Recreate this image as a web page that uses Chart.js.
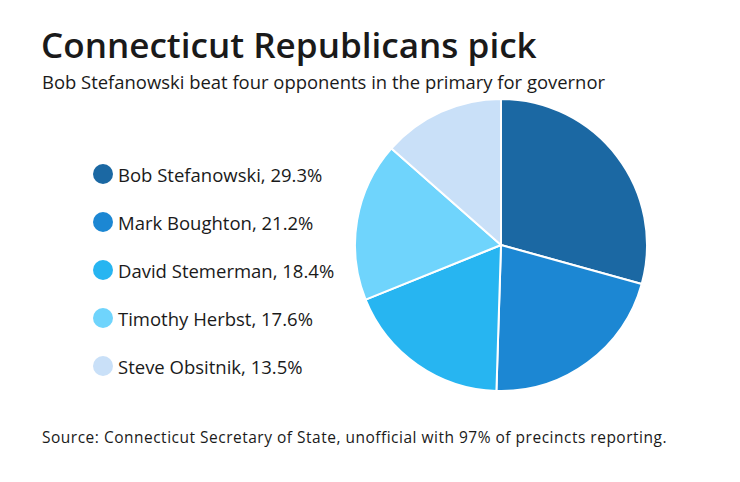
<!DOCTYPE html>
<html>
<head>
<meta charset="utf-8">
<script src="https://cdn.jsdelivr.net/npm/chart.js@4"></script>
<style>
  html, body { margin: 0; padding: 0; background: #fff; }
  body { width: 740px; height: 482px; position: relative; overflow: hidden; font-family: "Open Sans", Lato, sans-serif; color: #1a1a1a; }
  #title { position: absolute; left: 41px; top: 20px; font-size: 35.1px; font-weight: 600; white-space: nowrap; }
  #subtitle { position: absolute; left: 42px; top: 69px; font-size: 18.45px; white-space: nowrap; }
  #source { position: absolute; left: 42px; top: 426px; font-size: 15.5px; letter-spacing: 0.5px; white-space: nowrap; }
  #legend { position: absolute; left: 93px; top: 150px; }
  .item { display: flex; align-items: center; height: 48.1px; font-size: 18.5px; white-space: nowrap; }
  .dot { width: 20px; height: 20px; border-radius: 50%; margin-right: 5px; }
  #wrap { position: absolute; left: 354px; top: 98px; width: 294px; height: 294px; }
</style>
</head>
<body>
<div id="title">Connecticut Republicans pick</div>
<div id="subtitle">Bob Stefanowski beat four opponents in the primary for governor</div>
<div id="legend"></div>
<div id="wrap"><canvas id="c"></canvas></div>
<div id="source">Source: Connecticut Secretary of State, unofficial with 97% of precincts reporting.</div>
<script>
const candidates = ["Bob Stefanowski", "Mark Boughton", "David Stemerman", "Timothy Herbst", "Steve Obsitnik"];
const shares = [29.3, 21.2, 18.4, 17.6, 13.5];
const colors = ["#1b68a3", "#1c87d3", "#27b5f1", "#6fd4fc", "#c9e0f8"];

const legend = document.getElementById('legend');
candidates.forEach((name, i) => {
  const row = document.createElement('div');
  row.className = 'item';
  const dot = document.createElement('span');
  dot.className = 'dot';
  dot.style.background = colors[i];
  const txt = document.createElement('span');
  txt.textContent = name + ', ' + shares[i].toFixed(1) + '%';
  row.appendChild(dot);
  row.appendChild(txt);
  legend.appendChild(row);
});

new Chart(document.getElementById('c'), {
  type: 'pie',
  data: {
    labels: candidates,
    datasets: [{
      data: shares,
      backgroundColor: colors,
      borderColor: '#ffffff',
      borderWidth: 2
    }]
  },
  options: {
    responsive: true,
    maintainAspectRatio: false,
    animation: false,
    layout: { padding: 0 },
    plugins: { legend: { display: false }, tooltip: { enabled: false } }
  }
});
</script>
</body>
</html>
